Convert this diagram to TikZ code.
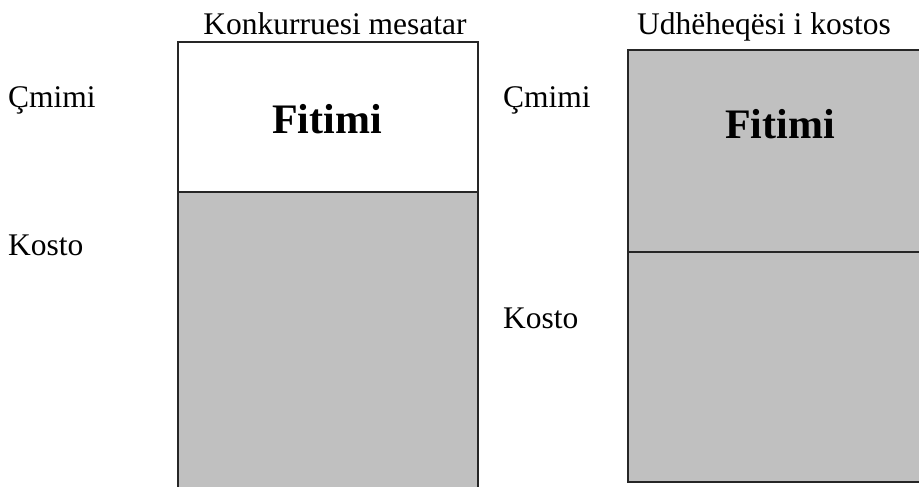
\documentclass[tikz,border=0pt]{standalone}
\usepackage{fontspec}
\setmainfont{Liberation Serif}
\definecolor{costgray}{RGB}{192,192,192}
\begin{document}
\begin{tikzpicture}[
        x=1pt, y=-1pt,
        part_box/.style={rectangle, draw=black!85, line width=2pt, inner sep=0pt},
        cost_box/.style={part_box, fill=costgray},
        profit_box/.style={part_box, fill=white},
        side_label/.style={anchor=base west, inner sep=0pt, font=\fontsize{31.5}{36}\selectfont},
        head_label/.style={anchor=base, inner sep=0pt, font=\fontsize{31.5}{36}\selectfont},
        profit_label/.style={anchor=base, inner sep=0pt, font=\fontsize{42}{48}\selectfont\bfseries}
    ]
        \useasboundingbox (0,0) rectangle (919,487);
        \clip (0,0) rectangle (919,487);
        % Konkurruesi mesatar
        \node[head_label] (avg_head) at (335,35) {Konkurruesi mesatar};
        \node[profit_box, minimum width=300pt, minimum height=150pt] (avg_profit) at (328,117) {};
        \node[cost_box, minimum width=300pt, minimum height=328pt] (avg_cost) at (328,356) {};
        \node[profit_label] (avg_fitimi) at (327,133) {Fitimi};
        \node[side_label] (avg_price) at (8,107) {Çmimi};
        \node[side_label] (avg_kosto) at (8,255) {Kosto};
        % Udhëheqësi i kostos
        \node[head_label] (lead_head) at (764,35) {Udhëheqësi i kostos};
        \node[cost_box, minimum width=304pt, minimum height=202pt] (lead_profit) at (780,151) {};
        \node[cost_box, minimum width=304pt, minimum height=230pt] (lead_cost) at (780,367) {};
        \node[profit_label] (lead_fitimi) at (780,138) {Fitimi};
        \node[side_label] (lead_price) at (503,107) {Çmimi};
        \node[side_label] (lead_kosto) at (503,328) {Kosto};
    \end{tikzpicture}
\end{document}
